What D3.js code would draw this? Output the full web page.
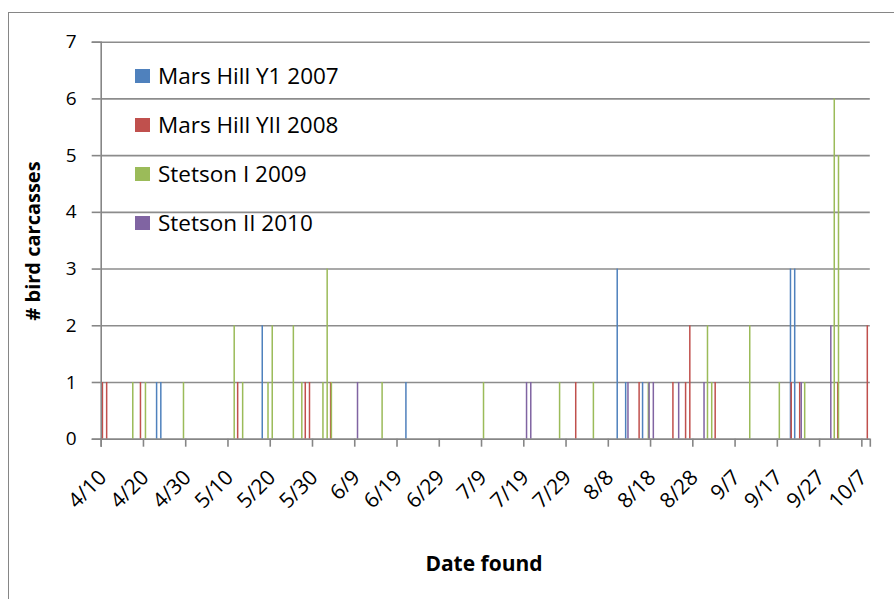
<!DOCTYPE html>
<html>
<head>
<meta charset="utf-8">
<script src="https://cdn.jsdelivr.net/npm/d3@7"></script>
<style>
  body { margin: 0; background: #fff; }
  svg text { font-family: "Open Sans", Lato, sans-serif; fill: #000; }
</style>
</head>
<body>
<div id="chart"></div>
<script>
// series names, in legend order
const seriesNames = ["Mars Hill Y1 2007", "Mars Hill YII 2008", "Stetson I 2009", "Stetson II 2010"];
const seriesColors = ["#4F81BD", "#C0504D", "#9BBB59", "#8064A2"];

// carcasses found per date (month/day)
const marsHill2007 = [["4/23", 1], ["4/24", 1], ["5/18", 2], ["6/21", 1], ["8/10", 3], ["8/12", 1],
  ["8/16", 1], ["9/20", 3], ["9/21", 3]];
const marsHill2008 = [["4/10", 1], ["4/11", 1], ["4/19", 1], ["5/12", 1], ["5/28", 1], ["5/29", 1],
  ["6/3", 1], ["7/31", 1], ["8/15", 1], ["8/23", 1], ["8/26", 1], ["8/27", 2], ["9/2", 1], ["9/20", 1],
  ["9/22", 1], ["10/1", 1], ["10/8", 2]];
const stetson2009 = [["4/17", 1], ["4/20", 1], ["4/29", 1], ["5/11", 2], ["5/13", 1], ["5/19", 1],
  ["5/20", 2], ["5/25", 2], ["5/27", 1], ["6/1", 1], ["6/2", 3], ["6/3", 1], ["6/15", 1], ["7/9", 1],
  ["7/27", 1], ["8/4", 1], ["8/17", 1], ["8/31", 2], ["9/1", 1], ["9/10", 2], ["9/17", 1], ["9/23", 1],
  ["9/30", 6], ["10/1", 5]];
const stetson2010 = [["6/9", 1], ["7/19", 1], ["7/20", 1], ["8/12", 1], ["8/17", 1], ["8/18", 1],
  ["8/24", 1], ["8/30", 1], ["9/22", 1], ["9/29", 2]];

const xTickLabels = ["4/10", "4/20", "4/30", "5/10", "5/20", "5/30", "6/9", "6/19", "6/29", "7/9",
  "7/19", "7/29", "8/8", "8/18", "8/28", "9/7", "9/17", "9/27", "10/7"];
const yTicks = [0, 1, 2, 3, 4, 5, 6, 7];
const firstDay = "4/10";
const lastDay = "10/8";

const width = 894;
const height = 599;
const margin = {top: 41.7, right: 24.2, bottom: 160.3, left: 100.7};

function parseDay(s) {
  const [m, d] = s.split("/").map(Number);
  return new Date(2001, m - 1, d);
}

const datasets = [marsHill2007, marsHill2008, stetson2009, stetson2010].map((data, i) => ({
  label: seriesNames[i],
  color: seriesColors[i],
  data: data.map(([day, count]) => ({date: parseDay(day), count: count}))
}));

const svg = d3.select("#chart")
  .append("svg")
  .attr("width", width)
  .attr("height", height);

// chart area border
svg.append("rect")
  .attr("x", 8.5)
  .attr("y", 12.5)
  .attr("width", width + 20)
  .attr("height", height + 20)
  .attr("fill", "none")
  .attr("stroke", "#868686")
  .attr("stroke-width", 1);

const x = d3.scaleTime()
  .domain([parseDay(firstDay), d3.timeDay.offset(parseDay(lastDay), 1)])
  .range([margin.left, width - margin.right]);

const dayWidth = x(d3.timeDay.offset(parseDay(firstDay), 1)) - x(parseDay(firstDay));

// position of each series inside one day (clustered columns, gap width 150%)
const inner = d3.scaleBand()
  .domain(seriesNames)
  .range([0, dayWidth])
  .paddingInner(0)
  .paddingOuter(0.75);

const y = d3.scaleLinear()
  .domain([0, 7])
  .range([height - margin.bottom, margin.top]);

// horizontal grid
svg.append("g")
  .attr("transform", `translate(${margin.left},0)`)
  .call(d3.axisLeft(y).tickValues(yTicks).tickSize(-(width - margin.left - margin.right)).tickFormat(""))
  .call(g => g.select(".domain").remove())
  .call(g => g.selectAll("line").attr("stroke", "#8c8c8c").attr("stroke-width", 1.6));

// bars
const barWidth = 1.5;
svg.append("g")
  .selectAll("g")
  .data(datasets)
  .join("g")
  .attr("fill", d => d.color)
  .selectAll("rect")
  .data(d => d.data.map(p => ({...p, label: d.label})))
  .join("rect")
  .attr("x", d => x(d.date) + inner(d.label) + inner.bandwidth() / 2 - barWidth / 2)
  .attr("y", d => y(d.count))
  .attr("width", barWidth)
  .attr("height", d => y(0) - y(d.count));

// y axis
svg.append("g")
  .attr("transform", `translate(${margin.left},0)`)
  .call(d3.axisLeft(y).tickValues(yTicks).tickSize(9).tickPadding(15).tickFormat(d3.format("d")))
  .call(g => g.select(".domain").attr("stroke", "#868686").attr("stroke-width", 1.6))
  .call(g => g.selectAll(".tick line").attr("stroke", "#868686").attr("stroke-width", 1.6))
  .call(g => g.selectAll(".tick text").attr("font-size", 19).attr("font-family", null));

// x axis
svg.append("g")
  .attr("transform", `translate(0,${y(0)})`)
  .call(d3.axisBottom(x).tickValues(xTickLabels.map(parseDay)).tickSize(8).tickFormat(""))
  .call(g => g.select(".domain").attr("stroke", "#868686").attr("stroke-width", 1.6))
  .call(g => g.selectAll(".tick line").attr("stroke", "#868686").attr("stroke-width", 1.6));

svg.append("g")
  .selectAll("text")
  .data(xTickLabels)
  .join("text")
  .attr("transform", d => `translate(${x(parseDay(d)) + 7},${y(0) + 40}) rotate(-45)`)
  .attr("text-anchor", "end")
  .attr("font-size", 21)
  .text(d => d);

// axis titles
svg.append("text")
  .attr("x", 484)
  .attr("y", 571)
  .attr("text-anchor", "middle")
  .attr("font-size", 21)
  .attr("font-weight", "bold")
  .text("Date found");

svg.append("text")
  .attr("transform", "translate(40,241) rotate(-90)")
  .attr("text-anchor", "middle")
  .attr("font-size", 20)
  .attr("font-weight", "bold")
  .text("# bird carcasses");

// legend
const legend = svg.append("g")
  .selectAll("g")
  .data(datasets)
  .join("g")
  .attr("transform", (d, i) => `translate(135,${76 + i * 49})`);

legend.append("rect")
  .attr("x", 0)
  .attr("y", -7)
  .attr("width", 15)
  .attr("height", 14)
  .attr("fill", d => d.color);

legend.append("text")
  .attr("x", 23)
  .attr("dy", "0.36em")
  .attr("font-size", 22.5)
  .text(d => d.label);
</script>
</body>
</html>
